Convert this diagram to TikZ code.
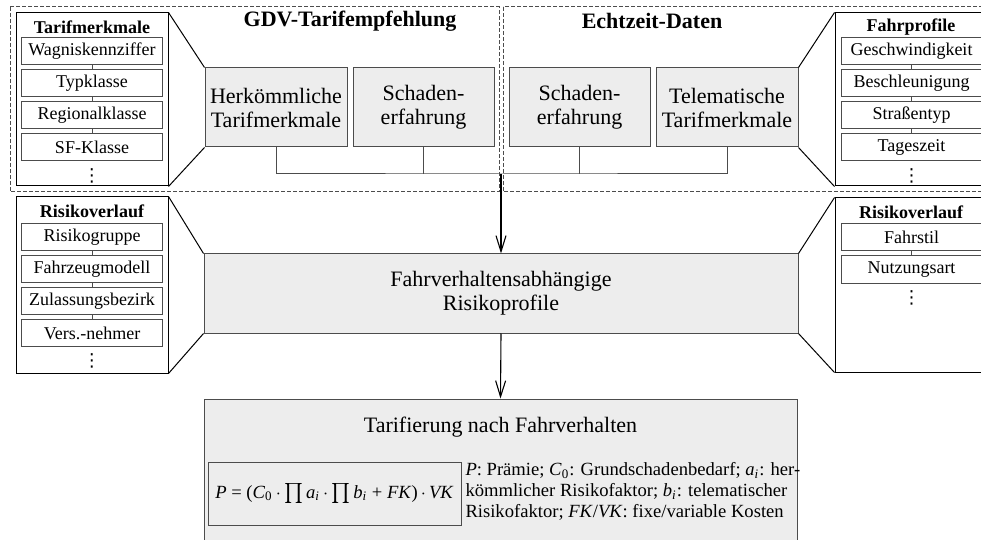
\documentclass[tikz,border=0pt]{standalone}
\usepackage{fontspec}
\setmainfont{Liberation Serif}
\newfontfamily\dotsfont{DejaVu Sans}
\usetikzlibrary{arrows.meta}

\definecolor{boxgray}{gray}{0.93}
\definecolor{linegray}{gray}{0.3}

\tikzset{
  mainbox/.style={draw=linegray, fill=boxgray, align=center, inner sep=0pt,
    font=\fontsize{11}{12}\selectfont},
  colbox/.style={draw=black, fill=white, inner sep=0pt, minimum width=76pt},
  itembox/.style={draw=linegray, fill=white, inner sep=0pt, minimum width=70.5pt,
    minimum height=13.5pt, font=\fontsize{9}{10}\selectfont},
  itemdots/.style={inner sep=0pt, font=\dotsfont\fontsize{9}{10}\selectfont},
  coltitle/.style={font=\fontsize{9}{10}\selectfont\bfseries},
  grptitle/.style={font=\fontsize{11}{12}\selectfont\bfseries},
  grpframe/.style={draw=linegray, dash pattern=on 2pt off 1pt},
  arr/.style={-{Straight Barb[length=8pt,width=5pt]}, line width=0.55pt},
}

\begin{document}
\begin{tikzpicture}[x=0.5pt, y=-0.5pt, line width=0.5pt]
  \clip (0,0) rectangle (981,540);

  % dashed groups
  \draw[grpframe] (10,7) rectangle (499,192);
  \draw[grpframe] (503,7) rectangle (993,192);
  \node[grptitle] (gdv) at (350,21) {GDV-Tarifempfehlung};
  \node[grptitle] (echt) at (652,21) {Echtzeit-Daten};

  % upper row
  \node[mainbox, minimum width=71pt, minimum height=39.5pt] (herk) at (276,107.5)
    {Herkömmliche\\Tarifmerkmale};
  \node[mainbox, minimum width=70.5pt, minimum height=39.5pt] (schadL) at (423.5,107.5)
    {Schaden-\\erfahrung};
  \node[mainbox, minimum width=70.5pt, minimum height=39.5pt] (schadR) at (579.5,107.5)
    {Schaden-\\erfahrung};
  \node[mainbox, minimum width=71pt, minimum height=39.5pt] (tele) at (727,107.5)
    {Telematische\\Tarifmerkmale};

  % middle and lower boxes
  \node[mainbox, minimum width=297pt, minimum height=39.5pt] (profil) at (501,293.5)
    {Fahrverhaltensabhängige\\Risikoprofile};
  \node[mainbox, minimum width=296.5pt, minimum height=73pt] (tarif) at (500.5,472) {};
  \node[font=\fontsize{11}{12}\selectfont] (tarifT) at (500.5,427) {Tarifierung nach Fahrverhalten};
  \node[draw=linegray, minimum width=126.5pt, minimum height=31.5pt, inner sep=0pt,
    font=\fontsize{9.3}{10.5}\selectfont] (formel) at (334.5,493.5)
    {\textit{P} = (\textit{C}\textsubscript{0}\,$\cdot$\,$\prod$\,\textit{a}\textsubscript{\textit{i}}\,$\cdot$\,$\prod$\,\textit{b}\textsubscript{\textit{i}} + \textit{FK})\,$\cdot$\,\textit{VK}};
  \node[anchor=west, align=left, inner sep=0pt,
    font=\fontsize{9.3}{10.5}\selectfont] (legende) at (465,491.5)
    {\textit{P}: Prämie; \textit{C}\textsubscript{0}: Grundschadenbedarf; \textit{a}\textsubscript{\textit{i}}: her-\\
     kömmlicher Risikofaktor; \textit{b}\textsubscript{\textit{i}}: telematischer\\
     Risikofaktor; \textit{FK}/\textit{VK}: fixe/variable Kosten};

  % side columns
  \node[colbox, minimum height=86.5pt] (colTL) at (92,99.5) {};
  \node[colbox, minimum height=88pt] (colBL) at (92,285) {};
  \node[colbox, minimum height=86.5pt] (colTR) at (911,99.5) {};
  \node[colbox, minimum height=87pt] (colBR) at (911,285) {};

  \node[coltitle] (tTL) at (92,27) {Tarifmerkmale};
  \node[coltitle] (tBL) at (92,211) {Risikoverlauf};
  \node[coltitle] (tTR) at (911,27) {Fahrprofile};
  \node[coltitle] (tBR) at (911,212) {Risikoverlauf};

  \foreach \txt [count=\i] in {Wagniskennziffer, Typklasse, Regionalklasse, SF-Klasse}
    \node[itembox] (tl\i) at (92,{19.5+32*\i}) {\txt};
  \foreach \txt [count=\i] in {Geschwindigkeit, Beschleunigung, Straßentyp, Tageszeit}
    \node[itembox] (tr\i) at (911.5,{19.5+32*\i}) {\txt};
  \foreach \txt [count=\i] in {Risikogruppe, Fahrzeugmodell, Zulassungsbezirk, Vers.-nehmer}
    \node[itembox] (bl\i) at (92,{205+32*\i}) {\txt};
  \foreach \txt [count=\i] in {Fahrstil, Nutzungsart}
    \node[itembox] (br\i) at (911.5,{205.5+32*\i}) {\txt};

  \node[itemdots] (tl5) at (92,175.5) {⋮};
  \node[itemdots] (tr5) at (911.5,175.5) {⋮};
  \node[itemdots] (bl5) at (92,361) {⋮};
  \node[itemdots] (br3) at (911.5,298) {⋮};

  % little links between the items
  \foreach \a/\b in {1/2,2/3,3/4}
    {
    \draw[linegray] (tl\a) -- (tl\b);
    \draw[linegray] (tr\a) -- (tr\b);
    \draw[linegray] (bl\a) -- (bl\b);
    }
  \draw[linegray] (br1) -- (br2);

  % funnel lines
  \draw (colTL.north east) -- (herk.north west);
  \draw (colTL.south east) -- (herk.south west);
  \draw (tele.north east) -- (colTR.north west);
  \draw (tele.south east) -- (colTR.south west);
  \draw (colBL.north east) -- (profil.north west);
  \draw (colBL.south east) -- (profil.south west);
  \draw (profil.north east) -- (colBR.north west);
  \draw (profil.south east) -- (colBR.south west);

  % collecting line and arrows
  \coordinate (join) at (501,174);
  \draw[linegray] (herk.south) |- (join) -| (tele.south);
  \draw[linegray] (schadL.south) -- (schadL.south |- join);
  \draw[linegray] (schadR.south) -- (schadR.south |- join);
  \draw[arr] (join) -- (profil.north);
  \draw[arr] (profil.south) -- (tarif.north);
\end{tikzpicture}
\end{document}
